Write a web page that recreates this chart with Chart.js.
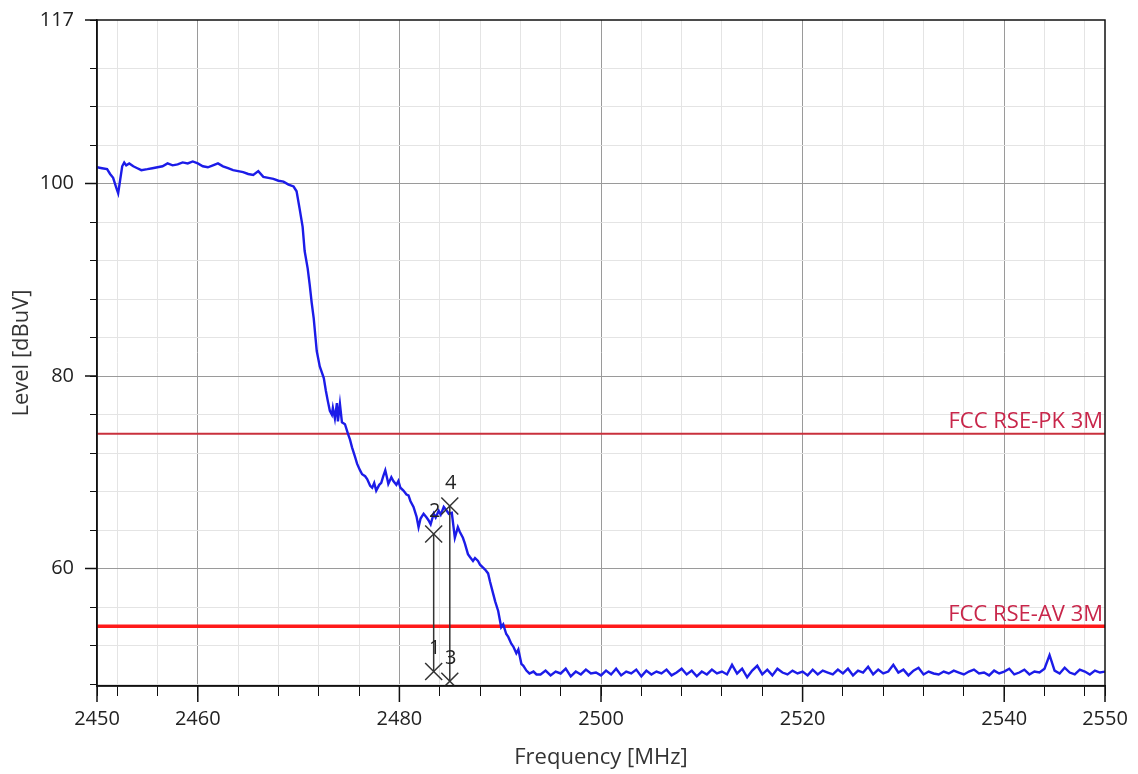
<!DOCTYPE html>
<html>
<head>
<meta charset="utf-8">
<script src="https://cdn.jsdelivr.net/npm/chart.js@4.4.1/dist/chart.umd.min.js"></script>
<style>
  html, body { margin: 0; background: #fff; }
  #c { display: block; }
</style>
</head>
<body>
<canvas id="c" width="1138" height="774"></canvas>
<script>
// spectrum trace (MHz / dBuV)
const PLATEAU_FREQ = [
  2450.0, 2450.5, 2451.0, 2451.3, 2451.6, 2451.9, 2452.1, 2452.3, 2452.5, 2452.7,
  2452.9, 2453.2, 2453.6, 2454.0, 2454.4, 2455.0, 2455.5, 2456.0, 2456.5, 2457.0,
  2457.5, 2458.0, 2458.5, 2459.0, 2459.5, 2460.0, 2460.5, 2461.0, 2461.5, 2462.0,
  2462.5, 2463.0, 2463.5, 2464.0, 2464.5, 2465.0, 2465.5, 2466.0, 2466.5, 2467.0,
  2467.5, 2468.0, 2468.5, 2469.0, 2469.5, 2469.8
];
const PLATEAU_LEVEL = [
  101.7, 101.6, 101.5, 101.0, 100.6, 99.6, 99.0, 100.4, 101.8, 102.2,
  101.9, 102.1, 101.8, 101.6, 101.4, 101.5, 101.6, 101.7, 101.8, 102.1,
  101.9, 102.0, 102.2, 102.1, 102.3, 102.1, 101.8, 101.7, 101.9, 102.1,
  101.8, 101.6, 101.4, 101.3, 101.2, 101.0, 100.9, 101.3, 100.7, 100.6,
  100.5, 100.3, 100.2, 99.9, 99.7, 99.2
];
const SLOPE_FREQ = [
  2470.1, 2470.4, 2470.6, 2470.9, 2471.1, 2471.3, 2471.5, 2471.8, 2472.1, 2472.5,
  2472.7, 2472.9, 2473.1, 2473.3, 2473.4, 2473.6, 2473.8, 2473.9, 2474.1, 2474.3,
  2474.6, 2474.9, 2475.1, 2475.3, 2475.6, 2475.8, 2476.1, 2476.3, 2476.6, 2476.8,
  2477.1, 2477.3, 2477.5, 2477.7, 2478.0, 2478.2, 2478.4, 2478.6, 2478.8, 2478.9,
  2479.2, 2479.4, 2479.7, 2479.9, 2480.1, 2480.4, 2480.7, 2480.9, 2481.1, 2481.4,
  2481.7, 2481.9, 2482.1, 2482.4, 2482.7, 2482.9, 2483.1, 2483.4, 2483.6, 2483.9,
  2484.1, 2484.4, 2484.7, 2484.9, 2485.2, 2485.5, 2485.8, 2486.0, 2486.3, 2486.5,
  2486.8, 2487.0, 2487.3, 2487.5, 2487.8, 2488.0, 2488.3, 2488.5, 2488.8, 2489.0,
  2489.3, 2489.5, 2489.8, 2490.1, 2490.3, 2490.6, 2490.8, 2491.1, 2491.3, 2491.6,
  2491.8, 2492.1, 2492.3, 2492.6, 2492.9, 2493.3, 2493.6
];
const SLOPE_LEVEL = [
  97.4, 95.5, 93.0, 91.2, 89.5, 87.6, 86.0, 82.6, 81.0, 79.8,
  78.5, 77.4, 76.4, 76.0, 76.7, 75.6, 77.2, 75.3, 77.1, 75.2,
  75.0, 74.0, 73.4, 72.6, 71.6, 70.9, 70.2, 69.8, 69.6, 69.3,
  68.6, 68.4, 68.9, 68.1, 68.7, 68.9, 69.6, 70.2, 69.3, 68.8,
  69.5, 69.1, 68.7, 69.1, 68.4, 68.1, 67.7, 67.6, 67.0, 66.4,
  65.4, 64.3, 65.2, 65.7, 65.3, 65.0, 64.6, 65.7, 65.3, 66.0,
  65.6, 66.4, 66.0, 65.7, 65.8, 63.2, 64.3, 63.8, 63.2, 62.6,
  61.5, 61.2, 60.8, 61.1, 60.8, 60.4, 60.1, 59.9, 59.5, 58.6,
  57.4, 56.6, 55.6, 53.9, 54.2, 53.2, 52.9, 52.2, 51.9, 51.2,
  51.6, 50.1, 49.9, 49.4, 49.1, 49.3, 49.0
];
const FLOOR_FREQ = [
  2494, 2494.5, 2495, 2495.5, 2496, 2496.5, 2497, 2497.5, 2498, 2498.5, 2499, 2499.5,
  2500, 2500.5, 2501, 2501.5, 2502, 2502.5, 2503, 2503.5, 2504, 2504.5, 2505, 2505.5,
  2506, 2506.5, 2507, 2507.5, 2508, 2508.5, 2509, 2509.5, 2510, 2510.5, 2511, 2511.5,
  2512, 2512.5, 2513, 2513.5, 2514, 2514.5, 2515, 2515.5, 2516, 2516.5, 2517, 2517.5,
  2518, 2518.5, 2519, 2519.5, 2520, 2520.5, 2521, 2521.5, 2522, 2522.5, 2523, 2523.5,
  2524, 2524.5, 2525, 2525.5, 2526, 2526.5, 2527, 2527.5, 2528, 2528.5, 2529, 2529.5,
  2530, 2530.5, 2531, 2531.5, 2532, 2532.5, 2533, 2533.5, 2534, 2534.5, 2535, 2535.5,
  2536, 2536.5, 2537, 2537.5, 2538, 2538.5, 2539, 2539.5, 2540, 2540.5, 2541, 2541.5,
  2542, 2542.5, 2543, 2543.5, 2544, 2544.5, 2545, 2545.5, 2546, 2546.5, 2547, 2547.5,
  2548, 2548.5, 2549, 2549.5, 2550
];
const FLOOR_LEVEL = [
  49.0, 49.4, 48.9, 49.3, 49.1, 49.6, 48.8, 49.3, 49.0, 49.5, 49.1, 49.2,
  48.9, 49.4, 49.0, 49.6, 48.9, 49.3, 49.1, 49.5, 48.8, 49.4, 49.0, 49.3,
  49.1, 49.5, 48.9, 49.2, 49.6, 49.0, 49.4, 48.8, 49.3, 49.0, 49.5, 49.1,
  49.3, 49.0, 50.0, 49.1, 49.6, 48.7, 49.4, 49.9, 49.0, 49.5, 48.9, 49.6,
  49.2, 49.0, 49.4, 49.1, 49.3, 48.9, 49.5, 49.0, 49.4, 49.2, 49.0, 49.5,
  49.1, 49.6, 48.9, 49.4, 49.2, 49.8, 49.0, 49.5, 49.1, 49.3, 50.0, 49.2,
  49.5, 48.9, 49.4, 49.7, 49.0, 49.3, 49.1, 49.0, 49.3, 49.1, 49.4, 49.2,
  49.0, 49.3, 49.5, 49.1, 49.2, 48.9, 49.4, 49.1, 49.3, 49.6, 49.0, 49.2,
  49.5, 49.0, 49.3, 49.2, 49.6, 51.0, 49.4, 49.1, 49.7, 49.2, 49.0, 49.5,
  49.3, 49.0, 49.4, 49.2, 49.3
];

const LIMIT_NAMES = ['FCC RSE-PK 3M', 'FCC RSE-AV 3M'];
const LIMIT_LEVELS = [74, 54];

const MARKER_IDS = ['1', '2', '3', '4'];
const MARKER_FREQ = [2483.4, 2483.4, 2485.0, 2485.0];
const MARKER_LEVEL = [49.3, 63.6, 48.3, 66.5];

const X_MIN = 2450, X_MAX = 2550, Y_MIN = 47.8, Y_MAX = 117;
const X_TICKS = [2450, 2452, 2456, 2460, 2464, 2468, 2472, 2476, 2480, 2484, 2488, 2492, 2496, 2500,
  2504, 2508, 2512, 2516, 2520, 2524, 2528, 2532, 2536, 2540, 2544, 2548, 2550];
const X_LABELS = [2450, 2460, 2480, 2500, 2520, 2540, 2550];
const X_MAJOR = [2460, 2480, 2500, 2520, 2540];
const Y_TICKS = [48, 52, 56, 60, 64, 68, 72, 76, 80, 84, 88, 92, 96, 100, 104, 108, 112, 117];
const Y_LABELS = [60, 80, 100, 117];
const Y_MAJOR = [60, 80, 100];

const FREQ = PLATEAU_FREQ.concat(SLOPE_FREQ, FLOOR_FREQ);
const LEVEL = PLATEAU_LEVEL.concat(SLOPE_LEVEL, FLOOR_LEVEL);
if (FREQ.length !== LEVEL.length) console.warn('trace length mismatch', FREQ.length, LEVEL.length);

const FONT = '"Open Sans", "DejaVu Sans", sans-serif';
const pts = (xs, ys) => xs.map((v, i) => ({ x: v, y: ys[i] }));

const gridCol = (major, ends) => c => {
  const v = c.tick && c.tick.value;
  if (ends.includes(v)) return 'rgba(0,0,0,0)';
  return major.includes(v) ? '#9a9a9a' : '#e4e4e4';
};

// limit labels, marker numbers, box frame and the longer labelled ticks
const overlay = {
  id: 'overlay',
  afterDatasetsDraw(chart) {
    const { ctx, chartArea: a, scales: { x, y } } = chart;
    ctx.save();
    ctx.font = '22px ' + FONT; ctx.fillStyle = '#c8264a';
    ctx.textAlign = 'right'; ctx.textBaseline = 'bottom';
    LIMIT_NAMES.forEach((n, i) => ctx.fillText(n, a.right - 2, y.getPixelForValue(LIMIT_LEVELS[i]) - 1));
    ctx.font = '20px ' + FONT; ctx.fillStyle = '#222';
    ctx.textAlign = 'center'; ctx.textBaseline = 'middle';
    MARKER_IDS.forEach((m, i) => ctx.fillText(m, x.getPixelForValue(MARKER_FREQ[i]) + 1, y.getPixelForValue(MARKER_LEVEL[i]) - 23));
    ctx.strokeStyle = '#111'; ctx.lineWidth = 1.5;
    ctx.strokeRect(a.left, a.top, a.right - a.left, a.bottom - a.top);
    ctx.beginPath();
    X_LABELS.forEach(v => { const px = x.getPixelForValue(v); ctx.moveTo(px, a.bottom); ctx.lineTo(px, a.bottom + 16); });
    Y_LABELS.forEach(v => { const py = y.getPixelForValue(v); ctx.moveTo(a.left, py); ctx.lineTo(a.left - 12, py); });
    ctx.stroke();
    ctx.restore();
  }
};

new Chart(document.getElementById('c'), {
  type: 'scatter',
  data: {
    datasets: [
      { data: pts(FREQ, LEVEL), showLine: true, borderColor: '#1c1ce8', borderWidth: 2.4, pointRadius: 0, order: 1 },
      { data: pts([X_MIN, X_MAX], [LIMIT_LEVELS[0], LIMIT_LEVELS[0]]), showLine: true, borderColor: '#c9303c', borderWidth: 2, pointRadius: 0, order: 3 },
      { data: pts([X_MIN, X_MAX], [LIMIT_LEVELS[1], LIMIT_LEVELS[1]]), showLine: true, borderColor: '#ff1a1a', borderWidth: 3.5, pointRadius: 0, order: 3 },
      { data: pts(MARKER_FREQ.slice(0, 2), MARKER_LEVEL.slice(0, 2)), showLine: true, borderColor: '#333', borderWidth: 1.5, pointRadius: 0, order: 0 },
      { data: pts(MARKER_FREQ.slice(2, 4), MARKER_LEVEL.slice(2, 4)), showLine: true, borderColor: '#333', borderWidth: 1.5, pointRadius: 0, order: 0 },
      { data: pts(MARKER_FREQ, MARKER_LEVEL), pointStyle: 'crossRot', pointRadius: 12, borderColor: '#333', borderWidth: 1.5, order: 0 }
    ]
  },
  options: {
    responsive: false, animation: false,
    layout: { padding: { top: 20, right: 33, left: 0, bottom: 0 } },
    plugins: { legend: { display: false }, tooltip: { enabled: false } },
    scales: {
      x: {
        type: 'linear', min: X_MIN, max: X_MAX,
        afterBuildTicks: s => { s.ticks = X_TICKS.map(v => ({ value: v })); },
        afterFit: s => { s.height = 88; s.paddingLeft = 0; s.paddingRight = 0; },
        ticks: { autoSkip: false, maxRotation: 0, padding: 11, color: '#222', font: { family: FONT, size: 20 },
          callback: v => X_LABELS.includes(v) ? String(v) : '' },
        grid: { color: gridCol(X_MAJOR, [X_MIN, X_MAX]), tickColor: '#111', tickLength: 10, lineWidth: 1 },
        border: { color: '#111', width: 1.5 },
        title: { display: true, text: 'Frequency [MHz]', color: '#333', font: { family: FONT, size: 22 }, padding: { top: 3, bottom: 3 } }
      },
      y: {
        type: 'linear', min: Y_MIN, max: Y_MAX,
        afterBuildTicks: s => { s.ticks = Y_TICKS.map(v => ({ value: v })); },
        afterFit: s => { s.width = 97; s.paddingTop = 0; s.paddingBottom = 0; },
        ticks: { autoSkip: false, padding: 16, color: '#222', font: { family: FONT, size: 20 },
          callback: v => Y_LABELS.includes(v) ? String(v) : '' },
        grid: { color: gridCol(Y_MAJOR, [Y_MAX]), tickColor: '#111', tickLength: 7, lineWidth: 1 },
        border: { color: '#111', width: 1.5 },
        title: { display: true, text: 'Level [dBuV]', color: '#333', font: { family: FONT, size: 22 }, padding: { top: 9, bottom: 3 } }
      }
    }
  },
  plugins: [overlay]
});
</script>
</body>
</html>
